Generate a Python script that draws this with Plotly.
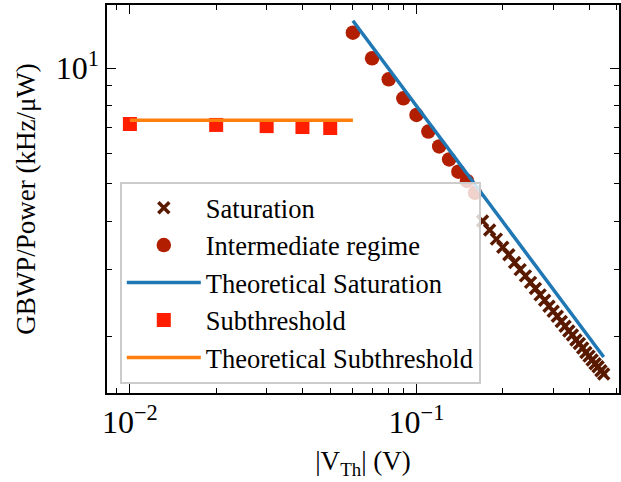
import plotly.graph_objects as go

# ---- data ----
sat_x = [0.17, 0.18, 0.19, 0.20, 0.21, 0.22, 0.23, 0.24, 0.25, 0.26, 0.27, 0.28, 0.29, 0.30,
         0.31, 0.32, 0.33, 0.34, 0.35, 0.36, 0.37, 0.38, 0.39, 0.40, 0.41, 0.42, 0.43, 0.44, 0.45]
sat_y = [4.00, 3.79, 3.59, 3.42, 3.27, 3.12, 2.99, 2.88, 2.77, 2.67, 2.57, 2.49, 2.40, 2.33,
         2.26, 2.19, 2.13, 2.07, 2.02, 1.96, 1.92, 1.87, 1.82, 1.78, 1.74, 1.70, 1.67, 1.63, 1.60]

inter_x = [0.06, 0.07, 0.08, 0.09, 0.10, 0.11, 0.12, 0.13, 0.14, 0.15, 0.16]
inter_y = [12.38, 10.62, 9.36, 8.35, 7.56, 6.84, 6.26, 5.79, 5.38, 5.09, 4.74]

theo_sat_x = [0.06, 0.45]
theo_sat_y = [13.30, 1.77]

sub_x = [0.01, 0.02, 0.03, 0.04, 0.05]
sub_y = [7.16, 7.12, 7.07, 7.03, 6.99]

theo_sub_x = [0.01, 0.06]
theo_sub_y = [7.32, 7.32]

x_major = [0.01, 0.1]
x_major_text = ["10<sup>−2</sup>", "10<sup>−1</sup>"]
x_minor = [0.009, 0.02, 0.03, 0.04, 0.05, 0.06, 0.07, 0.08, 0.09, 0.2, 0.3, 0.4, 0.5]
y_major = [10]
y_major_text = ["10<sup>1</sup>"]
y_minor = [2, 3, 4, 5, 6, 7, 8, 9]

FONT = "Liberation Serif"

fig = go.Figure()
fig.add_trace(go.Scatter(x=sat_x, y=sat_y, mode="markers", name="Saturation",
                         marker=dict(symbol="x-thin", size=11, color="#5a1a00",
                                     line=dict(width=3.5, color="#5a1a00"))))
fig.add_trace(go.Scatter(x=inter_x, y=inter_y, mode="markers", name="Intermediate regime",
                         marker=dict(symbol="circle", size=14.5, color="#b21e00")))
fig.add_trace(go.Scatter(x=theo_sat_x, y=theo_sat_y, mode="lines", name="Theoretical Saturation",
                         line=dict(color="#1f77b4", width=3.5)))
fig.add_trace(go.Scatter(x=sub_x, y=sub_y, mode="markers", name="Subthreshold",
                         marker=dict(symbol="square", size=14, color="#ff1e00")))
fig.add_trace(go.Scatter(x=theo_sub_x, y=theo_sub_y, mode="lines", name="Theoretical Subthreshold",
                         line=dict(color="#ff7f0e", width=3.5)))

axis_common = dict(
    type="log", showgrid=False, zeroline=False,
    showline=True, linecolor="black", linewidth=1.5, mirror="allticks",
    ticks="inside", ticklen=9, tickwidth=1.3, tickcolor="black",
    tickfont=dict(family=FONT, size=32, color="black"),
)

fig.update_layout(
    width=621, height=482,
    margin=dict(l=107, r=0, t=5, b=89),
    paper_bgcolor="white", plot_bgcolor="white",
    font=dict(family=FONT, size=26, color="black"),
    showlegend=True,
    legend=dict(x=0.025, y=0.544, xanchor="left", yanchor="top",
                bgcolor="rgba(255,255,255,0.8)", bordercolor="#cccccc", borderwidth=2,
                font=dict(family=FONT, size=26.5, color="black"),
                itemwidth=74, tracegroupgap=0),
    xaxis=dict(**axis_common, range=[-2.0799, -0.2934],
               tickmode="array", tickvals=x_major, ticktext=x_major_text,
               minor=dict(tickmode="array", tickvals=x_minor, ticks="inside", ticklen=5,
                          tickwidth=1.1, tickcolor="black", showgrid=False),
               title=dict(text="|V<sub>Th</sub>| (V)", font=dict(family=FONT, size=27), standoff=12)),
    yaxis=dict(**axis_common, range=[0.1544, 1.1648],
               tickmode="array", tickvals=y_major, ticktext=y_major_text,
               minor=dict(tickmode="array", tickvals=y_minor, ticks="inside", ticklen=5,
                          tickwidth=1.1, tickcolor="black", showgrid=False),
               title=dict(text="GBWP/Power (kHz/μW)", font=dict(family=FONT, size=27), standoff=12)),
)

fig.write_html("out.html")
